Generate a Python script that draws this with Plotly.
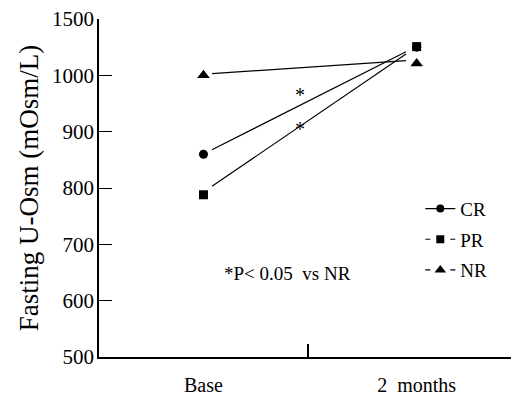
import plotly.graph_objects as go

# Data
groups = ["CR", "PR", "NR"]
symbols = ["circle", "square", "triangle-up"]
marker_sizes = [9, 9, 11]
legend_dash = ["solid", "5px,20px", "5px,20px"]
x_cats = [0, 1]
x_labels = ["Base", "2  months"]
base_vals = [860, 788, 1000]
month2_vals = [1050, 1051, 1021]
# drawn trend-line segments (start/end x and values)
line_x = [0.04, 0.95]
line_start = [868, 803, 1003]
line_end = [1042, 1038, 1026]
y_tickvals = [500, 600, 700, 800, 900, 1000, 1100]
y_ticktext = ["500", "600", "700", "800", "900", "1000", "1500"]
star_x = [0.455, 0.455]
star_y = [965, 905]
note_text = "*P< 0.05  vs NR"
note_pos = (0.394, 648)

FONT = "Liberation Serif"

fig = go.Figure()

for i, g in enumerate(groups):
    fig.add_trace(go.Scatter(
        x=line_x, y=[line_start[i], line_end[i]], mode="lines",
        line=dict(color="black", width=1.2), showlegend=False, hoverinfo="skip"))

for i, g in enumerate(groups):
    fig.add_trace(go.Scatter(
        x=x_cats, y=[base_vals[i], month2_vals[i]], mode="markers",
        marker=dict(symbol=symbols[i], size=marker_sizes[i], color="black"),
        showlegend=False, name=g))

for i, g in enumerate(groups):
    fig.add_trace(go.Scatter(
        x=[None], y=[None], mode="lines+markers", name=g, legendgroup=g,
        line=dict(color="black", width=1.2, dash=legend_dash[i]),
        marker=dict(symbol=symbols[i], size=marker_sizes[i] - 1, color="black")))

# mid tick on a helper axis
fig.add_trace(go.Scatter(x=[None], y=[None], xaxis="x2", showlegend=False))

fig.add_annotation(x=note_pos[0], y=note_pos[1], text=note_text, showarrow=False,
                   font=dict(family=FONT, size=19, color="black"))
for sx, sy in zip(star_x, star_y):
    fig.add_annotation(x=sx, y=sy, text="*", showarrow=False,
                       font=dict(family=FONT, size=20, color="black"))

fig.update_layout(
    width=511, height=392,
    margin=dict(l=91, r=0, t=11, b=43),
    paper_bgcolor="white", plot_bgcolor="white",
    font=dict(family=FONT, size=21, color="black"),
    showlegend=True,
    legend=dict(x=0.765, y=0.495, xanchor="left", yanchor="top",
                bgcolor="rgba(0,0,0,0)", tracegroupgap=3,
                font=dict(family=FONT, size=19, color="black")),
    xaxis=dict(range=[-0.49, 1.48], tickvals=x_cats, ticktext=x_labels,
               ticks="", showline=True, linecolor="black", linewidth=1.5,
               showgrid=False, zeroline=False, ticklabelstandoff=9,
               automargin=False, tickfont=dict(size=20),
               ticklabeloverflow="allow"),
    xaxis2=dict(range=[-0.49, 1.48], overlaying="x", side="bottom",
                tickvals=[0.49], ticks="inside", ticklen=13, tickwidth=1.5,
                tickcolor="black", showticklabels=False, showgrid=False,
                zeroline=False, showline=False, automargin=False),
    yaxis=dict(range=[500, 1100], tickvals=y_tickvals, ticktext=y_ticktext,
               ticks="inside", ticklen=13, tickwidth=1, tickcolor="black",
               showline=True, linecolor="black", linewidth=1.5,
               showgrid=False, zeroline=False, automargin=False,
               tickfont=dict(size=21), ticklabelstandoff=-1,
               ticklabeloverflow="allow",
               title=dict(text="Fasting U-Osm (mOsm/L)",
                          font=dict(family=FONT, size=27), standoff=6)),
)

fig.write_html("out.html")
